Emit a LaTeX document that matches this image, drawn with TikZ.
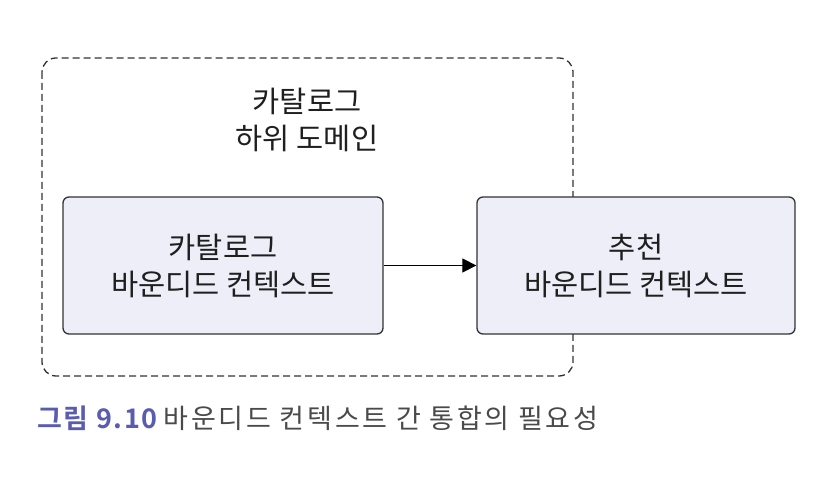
\documentclass[tikz,border=0pt]{standalone}
\usepackage{fontspec}
\setmainfont{Noto Sans CJK KR}
\newfontfamily\krcap[LetterSpace=10]{Noto Sans CJK KR}
\newfontfamily\krcapbold[LetterSpace=6]{Noto Sans CJK KR Bold}
\usetikzlibrary{arrows.meta}
\definecolor{boxfill}{HTML}{EEEEF8}
\definecolor{boxline}{HTML}{333333}
\definecolor{capblue}{HTML}{5A5CB0}
\definecolor{capgray}{HTML}{4A4A4A}
\tikzset{
  txt/.style={align=center, font=\fontsize{29.5}{37}\selectfont, text=black!88},
  ctxbox/.style={txt, draw=boxline, fill=boxfill, line width=1.3pt, rounded corners=6pt,
    minimum width=320pt, minimum height=137pt},
  domainbox/.style={draw=boxline, dashed, dash pattern=on 7pt off 4pt, line width=1.3pt, rounded corners=14pt},
  flow/.style={-{Triangle[length=14pt,width=14pt]}, line width=1.2pt, draw=black}
}
\begin{document}
\begin{tikzpicture}[x=1pt,y=1pt]
\useasboundingbox (0,0) rectangle (834,476);
\fill[white] (0,0) rectangle (834,476);
\draw[domainbox] (42,{476-58}) rectangle (573,{476-376});
\node[txt] (dlabel) at (307,{476-120}) {카탈로그\\하위 도메인};
\node[ctxbox] (cat) at (223,{476-265.5}) {카탈로그\\바운디드 컨텍스트};
\node[ctxbox, minimum width=318pt] (rec) at (636,{476-265.5}) {추천\\바운디드 컨텍스트};
\draw[flow] (cat.east) -- (rec.west);
\node[anchor=west, inner sep=0pt, font=\fontsize{27}{30}\selectfont] (cap) at (37,{476-418}) {{\krcapbold\color{capblue}그림 9.10} {\krcap\color{capgray}바운디드 컨텍스트 간 통합의 필요성}};
\end{tikzpicture}
\end{document}
